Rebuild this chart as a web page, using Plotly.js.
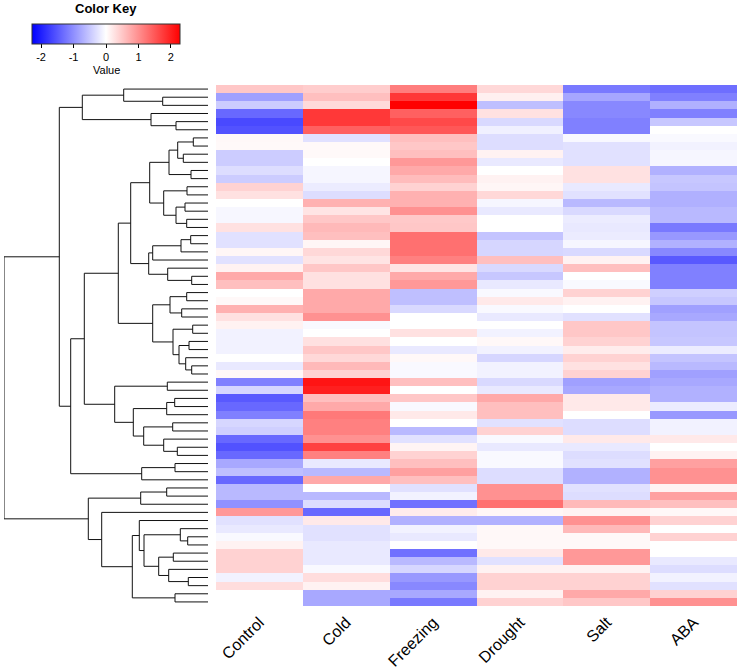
<!DOCTYPE html>
<html>
<head>
<meta charset="utf-8">
<script src="https://cdn.plot.ly/plotly-3.0.1.min.js"></script>
<style>html,body{margin:0;padding:0;background:#fff;}#chart{width:742px;height:671px;}</style>
</head>
<body>
<div id="chart"></div>
<script>
// Column (condition) labels
const conditions = ["Control", "Cold", "Freezing", "Drought", "Salt", "ABA"];

// Row-wise values per condition (64 genes, top to bottom in dendrogram order)
const control = [0.5,-0.85,-0.46,-1.35,-1.63,-1.55,0.06,0.05,-0.46,-0.46,-0.3,-0.46,0.4,0.27,0,-0.07,
  -0.07,0.27,-0.27,-0.27,0.08,-0.27,0.12,0.77,0.57,0,0.06,0.7,0.27,0.12,-0.12,-0.12,
  -0.12,0,-0.2,0.06,-1.14,-0.37,-1.48,-1.35,-1.14,-0.37,-0.43,-1.35,-1.55,-1.35,-0.78,-0.57,
  -1.35,-0.63,-0.63,-0.98,0.92,-0.27,-0.2,-0.05,0.12,0.4,0.4,0.4,-0.12,0.3,0,0];
const cold = [0.45,0.57,0.33,1.78,1.78,1.42,-0.27,0.05,0.05,0,-0.08,-0.08,-0.17,-0.3,0.7,0.24,
  0.5,0.63,0.57,0.08,0.35,0.24,0.5,0.27,0.27,0.77,0.77,0.77,0.98,-0.05,0,0.27,
  0.5,0.35,0.63,0.4,2.1,2.0,0.57,0.77,1.2,1.14,1.14,0.98,1.7,1.14,-0.2,-0.63,
  0.77,0,-0.63,-0.3,-1.35,0.2,-0.27,-0.27,-0.2,-0.2,-0.2,-0.05,0.3,0.12,-0.78,-0.78];
const freezing = [1.15,1.78,2.28,1.42,1.63,1.5,0.57,0.5,0.57,0.92,0.77,0.6,0.4,0.7,0.7,0.98,
  0.48,0.5,1.28,1.28,1.28,1.14,0.24,0.77,0.92,-0.57,-0.57,-0.34,0,0,0.27,0,
  -0.2,0.06,-0.05,-0.05,0.57,0,0.5,-0.05,0.2,0,-0.63,-0.27,0.1,0.4,0.57,0.85,
  0.57,-0.27,-0.12,-1.28,0.17,-0.7,-0.12,-0.2,0,-1.28,-0.63,-0.37,-0.92,-1.06,-0.78,-1.2];
const drought = [0.35,0.13,-0.57,0.27,-0.34,-0.13,-0.3,-0.3,0.12,-0.2,0,0.12,0.08,0.35,-0.08,-0.2,
  0,0,-0.53,-0.37,-0.37,0.57,-0.34,-0.5,-0.2,-0.05,0.2,-0.05,-0.2,0,-0.12,0.06,
  -0.12,-0.37,-0.12,-0.12,-0.34,-0.2,0.77,0.57,0.57,-0.27,0.4,-0.05,-0.2,-0.05,-0.05,-0.3,
  -0.3,0.98,0.98,1.28,0.08,-0.7,0.06,0.06,0.06,0.2,-0.27,0.12,0.4,0.4,0.12,0.4];
const salt = [-1.2,-0.8,-1.06,-1.06,-1.14,-1.14,-0.06,-0.27,-0.27,-0.27,0.27,0.27,-0.2,-0.27,-0.63,-0.34,
  -0.17,-0.2,-0.17,-0.08,-0.34,0.12,0.57,0,-0.05,0.4,0.12,0,-0.27,0.5,0.5,0.4,
  0.17,0.4,0.27,0.4,-0.85,-0.78,0.2,0.2,0,-0.3,-0.3,0.2,-0.2,-0.3,-0.27,-0.7,
  -0.7,-0.27,-0.3,0.63,0.12,0.98,0.63,0.06,0.06,0.92,0.92,0.12,0.4,0.4,0.77,0.5];
const aba = [-1.3,-1.14,-0.71,-1.14,-0.5,0,-0.05,-0.12,-0.08,-0.08,-0.7,-0.5,-0.53,-0.71,-0.71,-0.63,
  -0.63,-1.2,-0.92,-0.7,-1.06,-1.48,-1.14,-1.14,-1.14,-0.43,-0.5,-0.85,-0.78,-0.53,-0.53,-0.5,
  -0.17,-0.53,-0.63,-0.85,-0.78,-0.7,-0.7,-0.17,-0.92,-0.12,-0.12,0.2,0,0.12,0.85,0.98,
  0.98,0.12,0.85,0.57,0.06,0.4,0,0.4,0,0,-0.2,-0.3,-0.12,-0.27,0.4,0.98];

// Row dendrogram: [mergeHeight, left, right]; integers are leaf (row) indices
const rowTree =
[204,
  [148.7,
    [125.7, [84.3, 0, [45.3, 1, 2]], [57, 3, [32, 4, 5]]],
    [137.3,
      [123.7,
        [89.7,
          [77.3,
            [58.3,
              [39, [30.3, [14.7, 6, 7], [24.7, 8, 9]], [17, 10, 11]],
              [44.3, [21, 12, 13], [32, [23, 14, 15], [21.3, 16, 17]]]
            ],
            [59.3,
              [55.3, [27, [17.3, 18, 19], 20], 21],
              [40.3, 22, [16.3, 23, 24]]
            ]
          ],
          [55.3,
            [38, [21.3, 25, 26], [26.3, 27, 28]],
            [35, [15.3, 29, 30], [29, [19, 31, 32], [22.3, 33, [16.3, 34, 35]]]]
          ]
        ],
        [93.3,
          [40.7, 36, 37],
          [74.7,
            [41.3, [33.3, 38, 39], 40],
            [64.3, [35.3, 41, 42], [44.3, 43, [30.7, 44, 45]]]
          ]
        ]
      ],
      [66.3, [33, 46, 47], 48]
    ]
  ],
  [119.7,
    [67.3, [41.3, 49, 50], 51],
    [106.3, 52,
      [75.7,
        [68.7, 53, [64, [27.7, 54, [20.3, 55, 56]], [49.3, [34.7, 57, 58], [39.3, 59, [19.7, 60, 61]]]]],
        [33, 62, 63]
      ]
    ]
  ]
];

const colKeyTicks = [-2, -1, 0, 1, 2];
const colKeyLabels = ["-2", "-1", "0", "1", "2"];
const zLimit = 2.28;

// Build matrix
const series = [control, cold, freezing, drought, salt, aba];
const nRows = control.length;
const z = [];
const rowIdx = [];
for (let i = 0; i < nRows; i++) {
  z.push(series.map(s => s[i]));
  rowIdx.push(i);
}

// Dendrogram segments
const dx = [], dy = [];
function walk(node) {
  if (typeof node === 'number') return {y: node, h: 0};
  const h = node[0];
  const a = walk(node[1]), b = walk(node[2]);
  dx.push(a.h, h, h, b.h, null);
  dy.push(a.y, a.y, b.y, b.y, null);
  return {y: (a.y + b.y) / 2, h: h};
}
walk(rowTree);
const rootH = rowTree[0];

const W = 742, H = 671;
const font = "Arial, 'Liberation Sans', sans-serif";

const heat = {
  type: 'heatmap',
  z: z,
  x: conditions,
  y: rowIdx,
  xaxis: 'x', yaxis: 'y',
  zmin: -zLimit, zmax: zLimit,
  colorscale: [[0, '#0000FF'], [0.5, '#FFFFFF'], [1, '#FF0000']],
  xgap: 0, ygap: 0,
  hoverinfo: 'z',
  colorbar: {
    orientation: 'h',
    x: 106 / W, xanchor: 'center',
    y: 1 - 23.5 / H, yanchor: 'top',
    lenmode: 'pixels', len: 148,
    thickness: 20,
    xpad: 0, ypad: 0,
    outlinewidth: 1, outlinecolor: '#333',
    tickmode: 'array', tickvals: colKeyTicks, ticktext: colKeyLabels,
    ticks: 'outside', ticklen: 4, tickcolor: '#000', tickwidth: 1,
    tickfont: {family: font, size: 11, color: '#000'},
    title: {text: ''}
  }
};

const dendro = {
  type: 'scatter', mode: 'lines',
  x: dx, y: dy,
  xaxis: 'x2', yaxis: 'y',
  line: {color: '#111', width: 1},
  hoverinfo: 'skip', showlegend: false
};

const layout = {
  width: W, height: H,
  margin: {l: 0, r: 0, t: 0, b: 0},
  paper_bgcolor: '#fff', plot_bgcolor: 'rgba(0,0,0,0)',
  showlegend: false,
  xaxis: {
    domain: [216 / W, 737 / W],
    anchor: 'y',
    showgrid: false, zeroline: false, showline: false,
    ticks: '', tickangle: -45,
    ticklabelstandoff: 3,
    tickfont: {family: font, size: 16, color: '#000'},
    fixedrange: true
  },
  xaxis2: {
    domain: [4 / W, 208 / W],
    anchor: 'y',
    range: [rootH, 0],
    visible: false, fixedrange: true
  },
  yaxis: {
    domain: [1 - 606 / H, 1 - 85 / H],
    range: [nRows - 0.5, -0.5],
    visible: false, fixedrange: true
  },
  annotations: [
    {text: '<b>Color Key</b>', x: 106 / W, y: 1 - 9 / H, xref: 'paper', yref: 'paper',
     xanchor: 'center', yanchor: 'middle', showarrow: false,
     font: {family: font, size: 13, color: '#000'}},
    {text: 'Value', x: 106 / W, y: 1 - 63 / H, xref: 'paper', yref: 'paper',
     xanchor: 'center', yanchor: 'top', showarrow: false, borderpad: 0,
     font: {family: font, size: 11, color: '#000'}}
  ]
};

Plotly.newPlot('chart', [heat, dendro], layout, {displayModeBar: false, staticPlot: true});
</script>
</body>
</html>
